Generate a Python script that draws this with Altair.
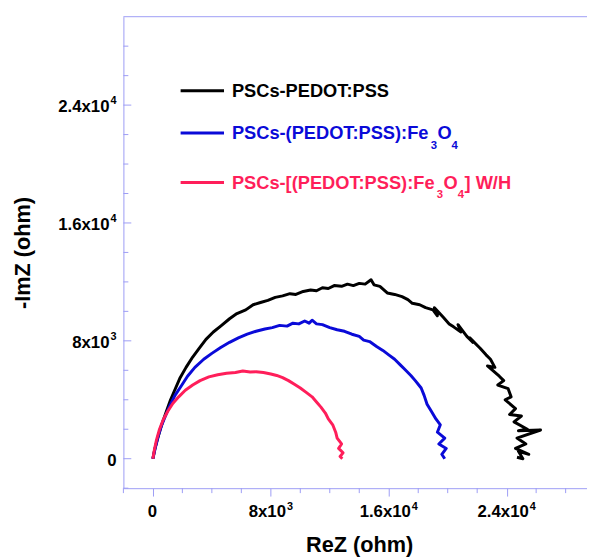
import altair as alt
import pandas as pd

# ---- data (ohm) ----
series_names = ["PSCs-PEDOT:PSS", "PSCs-(PEDOT:PSS):Fe₃O₄", "PSCs-[(PEDOT:PSS):Fe₃O₄] W/H"]
series_colors = ["#000000", "#0a0ad8", "#ff1e5a"]
# legend text pieces: (text, is_subscript)
legend_pieces = [
    [("PSCs-PEDOT:PSS", False)],
    [("PSCs-(PEDOT:PSS):Fe", False), ("3", True), ("O", False), ("4", True)],
    [("PSCs-[(PEDOT:PSS):Fe", False), ("3", True), ("O", False), ("4", True), ("] W/H", False)],
]

black_x = [0, 120, 300, 500, 700, 950, 1200, 1500, 1850, 2250, 2700, 3150, 3600, 4100, 4600, 5200, 5700,
           6300, 6800, 7300, 7800, 8300, 8800, 9300, 9700, 10200, 10700, 11100, 11500, 11900, 12300, 12800,
           13200, 13600, 14000, 14400, 14800, 15000, 15400, 15900, 16400, 16900, 17300, 17600, 18100, 18500,
           19000, 19300, 19100, 19700, 20100, 20400, 20900, 20700, 21300, 21700, 21500, 22200, 22600, 22900,
           23200, 22700, 23500, 23800, 23400, 24100, 24300, 23900, 24600, 24200, 25000, 24500, 25400, 24800,
           26300, 24700, 25300, 24600, 25500, 24800, 25100, 24700]
black_y = [0, 600, 1300, 2000, 2600, 3300, 4000, 4700, 5500, 6200, 6900, 7500, 8100, 8600, 9000, 9500, 9850,
           10100, 10450, 10600, 10750, 10950, 11050, 11200, 11150, 11350, 11450, 11400, 11600, 11550, 11750, 11700,
           11850, 11750, 11900, 11850, 12150, 11800, 11700, 11250, 11150, 11000, 10800, 10550, 10450, 10250,
           10100, 9700, 10250, 9600, 9150, 8950, 8600, 9100, 8300, 7900, 8200, 7500, 7050, 6750,
           6200, 6300, 5600, 5300, 5000, 4750, 4200, 4000, 3400, 3000, 2900, 2500, 2000, 1900,
           1950, 1400, 1000, 700, 300, 500, 0, 100]

blue_x = [0, 150, 350, 600, 850, 1150, 1500, 1900, 2350, 2850, 3450, 4000, 4600, 5200, 5800, 6400, 7000,
          7600, 8100, 8600, 9100, 9500, 9900, 10300, 10600, 10800, 11100, 11500, 12000, 12500, 13000, 13500,
          14000, 14300, 14700, 15200, 15600, 16000, 16400, 16800, 17100, 17500, 17800, 18200, 18400, 18600,
          18900, 19200, 19500, 19300, 19800, 19400, 19900, 19600, 19800]
blue_y = [0, 700, 1500, 2300, 2900, 3600, 4300, 4900, 5600, 6200, 6750, 7150, 7550, 7900, 8200, 8450, 8650,
          8800, 8900, 9050, 9000, 9200, 9150, 9350, 9200, 9400, 9150, 9100, 8900, 8750, 8650, 8450,
          8300, 8050, 7950, 7600, 7350, 7050, 6750, 6350, 6050, 5650, 5300, 4800, 4300, 3700,
          3200, 2700, 2300, 1800, 1400, 1000, 700, 300, 0]

red_x = [0, 100, 250, 450, 700, 1000, 1350, 1750, 2200, 2700, 3200, 3800, 4400, 5000, 5600, 6100, 6600,
         7000, 7500, 8000, 8400, 8800, 9200, 9600, 10000, 10400, 10800, 11100, 11400, 11700, 11900, 12200,
         12400, 12500, 12800, 12600, 12900, 12700, 12850]
red_y = [0, 600, 1300, 2000, 2650, 3200, 3750, 4200, 4650, 5000, 5300, 5550, 5700, 5800, 5850, 5950, 5880,
         5900, 5850, 5750, 5650, 5500, 5300, 5050, 4800, 4500, 4200, 3850, 3500, 3100, 2700, 2300,
         1800, 1400, 1000, 700, 400, 150, 0]

x_tick_values = [0, 8000, 16000, 24000]
x_tick_base = ["0", "8x10", "1.6x10", "2.4x10"]
x_tick_exp = ["", "3", "4", "4"]
y_tick_values = [0, 8000, 16000, 24000]
y_tick_base = ["0", "8x10", "1.6x10", "2.4x10"]
y_tick_exp = ["", "3", "4", "4"]
x_minor = [-2000, 2000, 4000, 6000, 10000, 12000, 14000, 18000, 20000, 22000, 26000, 28000]
y_minor = [-2000, 2000, 4000, 6000, 10000, 12000, 14000, 18000, 20000, 22000, 26000, 28000]

x_domain = [-2000, 29450]
y_domain = [-2000, 30000]

# ---- build tables ----
rows = []
for name, xs, ys in zip(series_names, [black_x, blue_x, red_x], [black_y, blue_y, red_y]):
    for i, (a, b) in enumerate(zip(xs, ys)):
        rows.append({"series": name, "idx": i, "x": a, "y": b})
df = pd.DataFrame(rows)

AXIS_COLOR = "#9c9cf5"
FONT = "Liberation Sans"
W, H = 470, 478
LBL_FS, EXP_FS = 17, 11
LEG_FS, SUB_FS = 18.5, 11.5

# Arial/Liberation Sans Bold advance widths (per 1000 em)
ADV = {"P": 667, "S": 667, "C": 722, "s": 556, "-": 333, "(": 333, ")": 333, "E": 667, "D": 722,
       "O": 778, "T": 611, ":": 333, "F": 611, "e": 556, "[": 333, "]": 333, " ": 278, "W": 944,
       "/": 278, "H": 722, ".": 278, "x": 556}


def text_w(s, fs):
    return sum(ADV.get(c, 556) for c in s) / 1000 * fs


xscale = alt.Scale(domain=x_domain, nice=False, zero=False)
yscale = alt.Scale(domain=y_domain, nice=False, zero=False)

x_axis = alt.Axis(values=x_tick_values, labels=False,
                  title="ReZ (ohm)", titleX=239, titleY=64, titleBaseline="alphabetic",
                  titleAlign="center", tickSize=8, grid=False)
y_axis = alt.Axis(values=y_tick_values, labels=False,
                  title="-ImZ (ohm)", titleX=-102, titleY=239, titleAngle=270,
                  titleAlign="center", titleBaseline="middle", ticks=False, grid=False)


def X(field):
    return alt.X(field, scale=xscale, axis=x_axis)


def Y(field):
    return alt.Y(field, scale=yscale, axis=y_axis)


lines = alt.Chart(df).mark_line(strokeWidth=3, strokeJoin="round").encode(
    x=X("x:Q"),
    y=Y("y:Q"),
    color=alt.Color("series:N", scale=alt.Scale(domain=series_names, range=series_colors), legend=None),
    order=alt.Order("idx:Q"),
    detail="series:N",
)

xminor_ticks = alt.Chart(pd.DataFrame({"v": x_minor})).mark_rule(color=AXIS_COLOR, strokeWidth=1).encode(
    x=X("v:Q"), y=alt.value(H), y2=alt.value(H + 5))
ymajor_ticks = alt.Chart(pd.DataFrame({"v": y_tick_values})).mark_rule(color=AXIS_COLOR, strokeWidth=1).encode(
    y=Y("v:Q"), x=alt.value(0), x2=alt.value(8))
yminor_ticks = alt.Chart(pd.DataFrame({"v": y_minor})).mark_rule(color=AXIS_COLOR, strokeWidth=1).encode(
    y=Y("v:Q"), x=alt.value(0), x2=alt.value(5))
top_frame = alt.Chart(alt.Data(values=[{}])).mark_rule(color=AXIS_COLOR, strokeWidth=1).encode(
    x=alt.value(0), x2=alt.value(W), y=alt.value(0))

# ---- tick labels with real superscripts ----
label_layers = []
for v, b, e in zip(x_tick_values, x_tick_base, x_tick_exp):
    bw, ew = text_w(b, LBL_FS), text_w(e, EXP_FS)
    anchor = -(bw + ew + 1) / 2 + bw
    d = alt.Data(values=[{"v": v}])
    label_layers.append(alt.Chart(d).mark_text(
        align="right", baseline="alphabetic", font=FONT, fontSize=LBL_FS, fontWeight="bold",
        color="#000000", dx=anchor).encode(
        x=X("v:Q"), y=alt.value(H + 29), text=alt.value(b)))
    if e:
        label_layers.append(alt.Chart(d).mark_text(
            align="left", baseline="alphabetic", font=FONT, fontSize=EXP_FS, fontWeight="bold",
            color="#000000", dx=anchor + 1).encode(
            x=X("v:Q"), y=alt.value(H + 22), text=alt.value(e)))

for v, b, e in zip(y_tick_values, y_tick_base, y_tick_exp):
    ew = text_w(e, EXP_FS)
    right = -7 - (ew + 1 if e else 0)
    d = alt.Data(values=[{"v": v}])
    label_layers.append(alt.Chart(d).mark_text(
        align="right", baseline="alphabetic", font=FONT, fontSize=LBL_FS, fontWeight="bold",
        color="#000000", dy=7).encode(
        y=Y("v:Q"), x=alt.value(right), text=alt.value(b)))
    if e:
        label_layers.append(alt.Chart(d).mark_text(
            align="left", baseline="alphabetic", font=FONT, fontSize=EXP_FS, fontWeight="bold",
            color="#000000", dy=-1).encode(
            y=Y("v:Q"), x=alt.value(right + 1), text=alt.value(e)))

# ---- legend (line sample + text with real subscripts) ----
legend_layers = []
legend_y = [75, 118, 168]
for pieces, col, ly in zip(legend_pieces, series_colors, legend_y):
    legend_layers.append(
        alt.Chart(alt.Data(values=[{}])).mark_rule(color=col, strokeWidth=3).encode(
            x=alt.value(58), x2=alt.value(102), y=alt.value(ly)))
    cx = 110
    for txt, sub in pieces:
        fs = SUB_FS if sub else LEG_FS
        legend_layers.append(
            alt.Chart(alt.Data(values=[{}])).mark_text(
                align="left", baseline="alphabetic", font=FONT, fontSize=fs, fontWeight="bold", color=col
            ).encode(x=alt.value(cx), y=alt.value(ly + (16 if sub else 6.5)), text=alt.value(txt)))
        cx += text_w(txt, fs) + (0.5 if sub else 0)

chart = alt.layer(lines, xminor_ticks, ymajor_ticks, yminor_ticks, top_frame,
                  *label_layers, *legend_layers).properties(
    width=W, height=H,
    padding={"left": 117, "top": 5, "right": 0, "bottom": 69},
    autosize=alt.AutoSizeParams(type="none"),
).configure_view(stroke=None).configure_axis(
    domainColor=AXIS_COLOR, tickColor=AXIS_COLOR, domainWidth=1, tickWidth=1,
    titleFont=FONT, titleFontSize=22, titleFontWeight="bold", titleColor="#000000",
)

chart.save("out.html", embed_options={"renderer": "svg", "actions": False})
